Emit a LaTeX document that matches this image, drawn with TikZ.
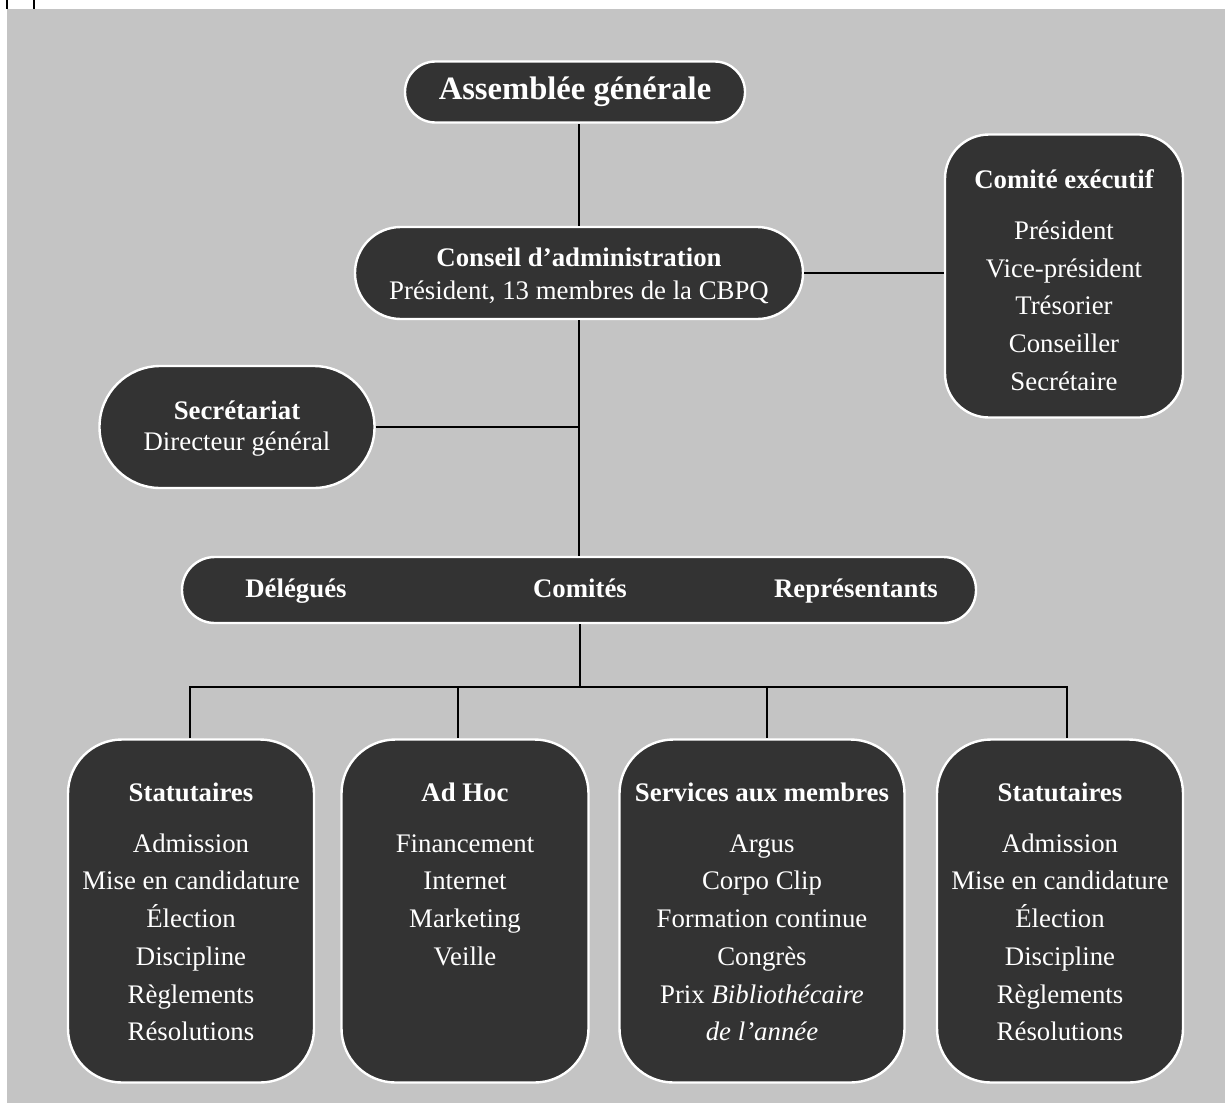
\documentclass[tikz,border=0pt]{standalone}
\usepackage{fontspec}
\setmainfont{Liberation Serif}
\definecolor{boxgray}{HTML}{333333}
\definecolor{bggray}{HTML}{C4C4C4}
\tikzset{
  orgbox/.style={draw=white, line width=1.2pt, fill=boxgray, text=white,
    align=center, inner sep=0pt},
  unittext/.style={text=white, align=center, inner sep=0pt, anchor=north,
    font=\fontsize{13.4}{18.85}\selectfont},
  bartext/.style={text=white, inner sep=0pt, anchor=base,
    font=\bfseries\fontsize{13.4}{16}\selectfont},
  link/.style={line width=1pt, black}
}
\begin{document}
\begin{tikzpicture}[x=0.5pt, y=-0.5pt]
  \useasboundingbox (0,0) rectangle (1225,1103);
  \fill[bggray] (7,9) rectangle (1225,1103);
  \draw[line width=0.8pt] (7,0) -- (7,9);
  \draw[line width=0.8pt] (34,0) -- (34,9);

  % top of the chart
  \node[orgbox, minimum width=170pt, minimum height=30.5pt, rounded corners=15.2pt,
    font=\bfseries\fontsize{16.3}{19}\selectfont] (assemblee) at (575,92) {Assemblée générale};
  \node[orgbox, minimum width=224pt, minimum height=46pt, rounded corners=22.9pt,
    font=\fontsize{13.4}{16.5}\selectfont] (conseil) at (579,273) {};
  \node[text=white, align=center, inner sep=0pt, font=\fontsize{13.4}{16.5}\selectfont]
    (conseiltext) at ([yshift=-1.5pt]conseil.center)
    {{\bfseries Conseil d’administration}\\ Président, 13 membres de la CBPQ};
  \node[orgbox, minimum width=137.5pt, minimum height=61pt, rounded corners=30.4pt] (secretariat) at (237,427) {};
  \node[text=white, align=center, inner sep=0pt, font=\fontsize{13.4}{15.5}\selectfont]
    (secretariattext) at ([yshift=-1pt]secretariat.center)
    {{\bfseries Secrétariat}\\ Directeur général};

  % executive committee
  \node[orgbox, minimum width=119pt, minimum height=141.5pt, rounded corners=22pt] (execbox) at (1064,276) {};
  \node[unittext] (exectext) at ([yshift=-18pt]execbox.north)
    {{\bfseries Comité exécutif}\\[6.6pt] Président\\ Vice-président\\ Trésorier\\ Conseiller\\ Secrétaire};

  % middle bar
  \node[orgbox, minimum width=397pt, minimum height=33pt, rounded corners=16.4pt] (bar) at (579,590) {};
  \node[bartext] (delegues) at (296,597) {Délégués};
  \node[bartext] (comites) at (580,597) {Comités};
  \node[bartext] (representants) at (856,597) {Représentants};

  % committees
  \node[orgbox, minimum width=123pt, minimum height=171.5pt, rounded corners=27pt] (statA) at (191,911) {};
  \node[orgbox, minimum width=123.5pt, minimum height=171.5pt, rounded corners=27pt] (adhoc) at (465,911) {};
  \node[orgbox, minimum width=142.5pt, minimum height=171.5pt, rounded corners=27pt] (services) at (762,911) {};
  \node[orgbox, minimum width=123pt, minimum height=171.5pt, rounded corners=27pt] (statB) at (1060,911) {};

  \node[unittext] (statAtext) at ([yshift=-22pt]statA.north)
    {{\bfseries Statutaires}\\[6.6pt] Admission\\ Mise en candidature\\ Élection\\ Discipline\\ Règlements\\ Résolutions};
  \node[unittext] (adhoctext) at ([yshift=-22pt]adhoc.north)
    {{\bfseries Ad Hoc}\\[6.6pt] Financement\\ Internet\\ Marketing\\ Veille};
  \node[unittext] (servicestext) at ([yshift=-22pt]services.north)
    {{\bfseries Services aux membres}\\[6.6pt] Argus\\ Corpo Clip\\ Formation continue\\ Congrès\\
     Prix \textit{Bibliothécaire}\\ \textit{de l’année}};
  \node[unittext] (statBtext) at ([yshift=-22pt]statB.north)
    {{\bfseries Statutaires}\\[6.6pt] Admission\\ Mise en candidature\\ Élection\\ Discipline\\ Règlements\\ Résolutions};

  % connectors
  \coordinate (hub) at (580,687);
  \coordinate (bA) at (190,687);
  \coordinate (bB) at (458,687);
  \coordinate (bC) at (767,687);
  \coordinate (bD) at (1067,687);
  \draw[link] (conseil.north) -- (conseil.north |- assemblee.south);
  \draw[link] (conseil.east) -- (conseil.east -| execbox.west);
  \draw[link] (conseil.south) -- (conseil.south |- bar.north);
  \draw[link] (secretariat.east) -- (secretariat.east -| conseil.south);
  \draw[link] (bar.south -| hub) -- (hub);
  \draw[link] (bA |- statA.north) -- (bA) -- (bD) -- (bD |- statB.north);
  \draw[link] (bB) -- (bB |- adhoc.north);
  \draw[link] (bC) -- (bC |- services.north);
\end{tikzpicture}
\end{document}
